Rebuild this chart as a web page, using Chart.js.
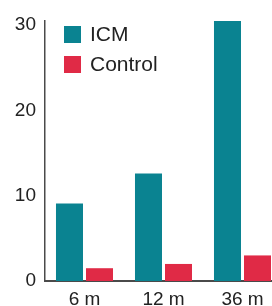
<!DOCTYPE html>
<html>
<head>
<meta charset="utf-8">
<script src="https://cdn.jsdelivr.net/npm/chart.js@4/dist/chart.umd.min.js"></script>
<style>
  html, body { margin: 0; padding: 0; background: #fff; overflow: hidden; }
  #wrap { width: 290px; height: 306px; }
</style>
</head>
<body>
<div id="wrap"><canvas id="chart" width="290" height="306"></canvas></div>
<script>
let categories = ['6 m', '12 m', '36 m'];
let icmValues = [9.1, 12.6, 30.5];
let controlValues = [1.5, 2.0, 3.0];
let yTicks = [0, 10, 20, 30];

let teal = '#0a8391';
let red = '#e02a46';
let axisColor = '#4a4a4a';
let textColor = '#222';
let fontFamily = '"Liberation Sans", Arial, Helvetica, sans-serif';

// legend sits inside the plot, top left
const insideLegend = {
    id: 'insideLegend',
    afterDraw(chart) {
        const ctx = chart.ctx;
        ctx.save();
        ctx.font = '21px ' + fontFamily;
        ctx.textBaseline = 'middle';
        chart.data.datasets.forEach((ds, i) => {
            const y = 26 + i * 30;
            ctx.fillStyle = ds.backgroundColor;
            ctx.fillRect(64, y, 17, 17);
            ctx.fillStyle = textColor;
            ctx.fillText(ds.label, 90, y + 9);
        });
        ctx.restore();
    }
};

new Chart(document.getElementById('chart'), {
    type: 'bar',
    data: {
        labels: categories,
        datasets: [
            { label: 'ICM', data: icmValues, backgroundColor: teal },
            { label: 'Control', data: controlValues, backgroundColor: red }
        ]
    },
    options: {
        responsive: false,
        animation: false,
        devicePixelRatio: 1,
        layout: { padding: { top: 21, right: 8, left: 0, bottom: 0 } },
        datasets: {
            bar: { categoryPercentage: 0.76, barPercentage: 0.9 }
        },
        plugins: {
            legend: { display: false },
            tooltip: { enabled: false }
        },
        scales: {
            x: {
                grid: { display: false, drawTicks: false },
                border: { display: true, color: axisColor, width: 2 },
                ticks: { color: textColor, padding: 7, font: { family: fontFamily, size: 19 } },
                afterFit(scale) { scale.height = 25; }
            },
            y: {
                min: 0,
                max: 30.5,
                grid: { display: false, drawTicks: false },
                border: { display: true, color: axisColor, width: 1.5 },
                afterBuildTicks(scale) {
                    scale.ticks = yTicks.map(v => ({ value: v }));
                },
                ticks: { color: textColor, padding: 9, font: { family: fontFamily, size: 19 } },
                afterFit(scale) { scale.width = 45; }
            }
        }
    },
    plugins: [insideLegend]
});
</script>
</body>
</html>
